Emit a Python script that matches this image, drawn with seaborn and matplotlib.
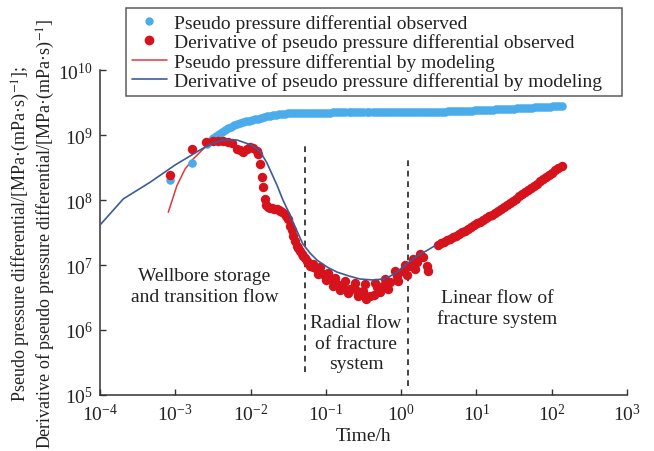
import matplotlib
matplotlib.use("Agg")
import matplotlib.pyplot as plt
import seaborn as sns
from matplotlib.lines import Line2D
from matplotlib.ticker import NullLocator

sns.set_style("ticks")
plt.rcParams['font.family'] = ['Liberation Serif', 'DejaVu Serif']
plt.rcParams['mathtext.fontset'] = 'stix'

# ---------------- data ----------------
# Pseudo pressure differential observed (blue dots)
pp_obs_t = [8.5e-4, 1.68e-3,
            2.63e-3, 2.88e-3, 3.16e-3, 3.47e-3, 3.80e-3, 4.17e-3, 4.57e-3, 5.01e-3,
            5.50e-3, 6.03e-3, 6.61e-3, 7.24e-3, 7.94e-3, 8.71e-3, 9.55e-3,
            1.05e-2, 1.15e-2, 1.26e-2, 1.38e-2, 1.51e-2, 1.66e-2, 1.82e-2, 2.00e-2,
            2.19e-2, 2.40e-2, 2.63e-2, 2.88e-2, 3.16e-2, 3.47e-2, 3.80e-2,
            4.17e-2, 4.57e-2, 5.01e-2, 5.50e-2, 6.03e-2, 6.61e-2, 7.24e-2, 7.94e-2,
            8.71e-2, 9.55e-2, 0.105, 0.115, 0.126, 0.138, 0.151, 0.166, 0.182,
            0.200, 0.219, 0.240, 0.263, 0.288, 0.316, 0.347, 0.380, 0.417, 0.457,
            0.501, 0.550, 0.603, 0.661, 0.724, 0.794, 0.871, 0.955,
            1.05, 1.15, 1.26, 1.38, 1.51, 1.66, 1.82, 2.00, 2.19, 2.40, 2.63, 2.88,
            3.16, 3.47, 3.80, 4.17, 4.57, 5.01, 5.50, 6.03, 6.61, 7.24, 7.94, 8.71,
            9.55, 10.5, 11.5, 12.6, 13.8, 15.1, 16.6, 18.2, 20.0, 21.9, 24.0, 26.3,
            28.8, 31.6, 34.7, 38.0, 41.7, 45.7, 50.1, 55.0, 60.3, 66.1, 72.4, 79.4,
            87.1, 95.5, 105.0, 115.0, 126.0, 138.0]
pp_obs_v = [2.0e8, 3.7e8,
            7.3e8, 8.1e8, 8.9e8, 9.7e8, 1.05e9, 1.13e9, 1.20e9, 1.28e9,
            1.35e9, 1.42e9, 1.48e9, 1.53e9, 1.58e9, 1.62e9, 1.66e9,
            1.70e9, 1.74e9, 1.78e9, 1.82e9, 1.87e9, 1.93e9, 1.98e9, 2.03e9,
            2.06e9, 2.09e9, 2.12e9, 2.14e9, 2.16e9, 2.18e9, 2.19e9,
            2.19e9, 2.19e9, 2.20e9, 2.20e9, 2.20e9, 2.20e9, 2.21e9, 2.21e9,
            2.21e9, 2.21e9, 2.21e9, 2.21e9, 2.22e9, 2.22e9, 2.22e9, 2.22e9, 2.22e9,
            2.22e9, 2.22e9, 2.22e9, 2.22e9, 2.22e9, 2.23e9, 2.23e9, 2.23e9, 2.23e9, 2.23e9,
            2.23e9, 2.23e9, 2.23e9, 2.23e9, 2.23e9, 2.24e9, 2.24e9, 2.24e9,
            2.24e9, 2.24e9, 2.24e9, 2.24e9, 2.24e9, 2.25e9, 2.25e9, 2.25e9, 2.26e9, 2.26e9, 2.27e9, 2.27e9,
            2.28e9, 2.29e9, 2.29e9, 2.30e9, 2.31e9, 2.32e9, 2.33e9, 2.34e9, 2.35e9, 2.36e9, 2.37e9, 2.38e9,
            2.39e9, 2.40e9, 2.41e9, 2.42e9, 2.43e9, 2.44e9, 2.46e9, 2.47e9, 2.48e9, 2.49e9, 2.51e9, 2.52e9,
            2.54e9, 2.55e9, 2.57e9, 2.58e9, 2.60e9, 2.61e9, 2.63e9, 2.64e9, 2.66e9, 2.67e9, 2.69e9, 2.70e9,
            2.72e9, 2.73e9, 2.75e9, 2.77e9, 2.79e9, 2.81e9]

# Derivative of pseudo pressure differential observed (red dots)
dp_obs_t = [8.51e-4, 1.68e-3, 2.52e-3, 3.17e-3, 3.69e-3, 4.30e-3, 5.01e-3, 5.66e-3,
            6.53e-3, 7.23e-3, 7.92e-3, 8.95e-3, 9.82e-3, 1.08e-2, 1.21e-2, 1.27e-2,
            1.33e-2, 1.40e-2, 1.46e-2, 1.55e-2, 1.70e-2, 1.92e-2, 2.22e-2, 2.46e-2,
            2.86e-2, 3.14e-2, 3.34e-2, 3.69e-2, 4.09e-2, 4.53e-2, 5.01e-2, 5.56e-2,
            6.15e-2, 7.55e-2, 9.23e-2, 0.113, 0.139, 0.170, 0.209, 0.256, 0.314,
            0.385, 0.473, 0.578, 0.710, 0.871, 1.07, 1.31, 1.61, 1.97, 2.18, 2.29,
            # extra readings in the transition drop
            1.60e-2, 1.80e-2, 2.05e-2, 2.35e-2, 2.65e-2, 3.00e-2, 3.50e-2, 3.90e-2,
            4.30e-2, 4.80e-2, 5.30e-2, 5.85e-2, 6.80e-2,
            # upper / lower edge of the scattered radial-flow band
            6.75e-2, 8.36e-2, 0.107, 0.132, 0.179, 0.243, 0.330, 0.448, 0.609, 0.828,
            1.12, 1.43, 1.78,
            7.85e-2, 0.100, 0.124, 0.154, 0.197, 0.267, 0.340, 0.435, 0.523, 0.668,
            0.908, 1.19, 1.52,
            # linear flow section
            3.09, 3.39, 3.72, 4.07, 4.47, 4.90, 5.37, 5.89, 6.46, 7.08, 7.76, 8.51,
            9.33, 10.2, 11.2, 12.3, 13.5, 14.8, 16.2, 17.8, 19.5, 21.4, 23.4, 25.7,
            28.2, 30.9, 33.9, 37.2, 40.7, 44.7, 49.0, 53.7, 58.9, 64.6, 70.8, 77.6,
            85.1, 93.3, 102.0, 112.0, 123.0, 135.0]
dp_obs_v = [2.43e8, 6.09e8, 7.89e8, 8.17e8, 8.17e8, 8.17e8, 7.94e8, 7.54e8,
            6.09e8, 5.88e8, 5.47e8, 6.09e8, 6.53e8, 6.31e8, 5.73e8, 5.10e8,
            3.58e8, 2.26e8, 1.58e8, 1.04e8, 7.80e7, 7.53e7, 7.27e7, 6.84e7,
            6.09e7, 5.10e7, 4.03e7, 2.82e7, 1.98e7, 1.66e7, 1.39e7, 1.16e7,
            9.75e6, 8.67e6, 7.27e6, 6.09e6, 5.10e6, 4.54e6, 4.28e6, 4.03e6, 4.03e6,
            3.37e6, 4.54e6, 4.81e6, 5.42e6, 6.84e6, 8.17e6, 9.75e6, 1.10e7, 1.31e7, 9.75e6, 8.17e6,
            8.5e7, 7.6e7, 7.4e7, 7.0e7, 6.5e7, 5.6e7, 3.4e7, 2.3e7,
            1.8e7, 1.5e7, 1.27e7, 1.06e7, 9.2e6,
            1.04e7, 9.31e6, 7.53e6, 6.31e6, 5.68e6, 5.28e6, 5.10e6, 5.28e6, 6.09e6, 8.09e6,
            1.00e7, 1.24e7, 1.48e7,
            7.27e6, 5.88e6, 4.75e6, 4.12e6, 3.71e6, 3.33e6, 3.00e6, 3.45e6, 3.85e6, 4.28e6,
            5.68e6, 7.02e6, 8.67e6,
            2.04e7, 2.15e7, 2.28e7, 2.40e7, 2.54e7, 2.69e7, 2.84e7, 3.00e7, 3.18e7, 3.37e7, 3.59e7, 3.85e7,
            4.09e7, 4.36e7, 4.65e7, 4.95e7, 5.27e7, 5.61e7, 5.96e7, 6.34e7, 6.78e7, 7.30e7, 7.86e7, 8.43e7,
            9.08e7, 9.79e7, 1.05e8, 1.14e8, 1.23e8, 1.32e8, 1.43e8, 1.54e8, 1.66e8, 1.79e8, 1.94e8, 2.10e8,
            2.26e8, 2.44e8, 2.64e8, 2.85e8, 3.10e8, 3.35e8]

# Pseudo pressure differential by modeling (red line)
pp_mod_t = [8.07e-4, 1.05e-3, 1.35e-3, 1.73e-3, 2.35e-3, 2.89e-3, 3.8e-3, 5.5e-3,
            1.0e-2, 2.0e-2, 5.0e-2, 1.0, 10.0, 112.0]
pp_mod_v = [6.47e7, 1.66e8, 3.00e8, 4.28e8, 6.09e8, 7.54e8, 1.0e9, 1.33e9,
            1.68e9, 2.0e9, 2.18e9, 2.24e9, 2.4e9, 2.75e9]

# Derivative of pseudo pressure differential by modeling (blue line)
dp_mod_t = [1.00e-4, 2.04e-4, 4.61e-4, 9.91e-4, 1.57e-3, 2.13e-3, 2.89e-3, 4.30e-3,
            6.59e-3, 9.82e-3, 1.33e-2, 1.65e-2, 2.24e-2, 2.69e-2, 3.34e-2, 4.13e-2,
            4.96e-2, 6.15e-2, 7.62e-2, 0.104, 0.140, 0.209, 0.284, 0.422, 0.573,
            0.710, 0.879, 1.19, 1.62, 2.20, 2.81]
dp_mod_v = [4.12e7, 1.04e8, 1.87e8, 3.45e8, 4.75e8, 5.88e8, 7.14e8, 8.38e8,
            8.38e8, 7.14e8, 5.67e8, 3.71e8, 1.70e8, 1.00e8, 5.88e7, 3.33e7,
            2.10e7, 1.53e7, 1.19e7, 9.31e6, 7.80e6, 6.70e6, 6.09e6, 5.88e6, 6.09e6,
            6.70e6, 7.73e6, 1.04e7, 1.37e7, 1.67e7, 1.98e7]

# Flow-regime boundaries (dashed lines): time, lower and upper extent
bound_t = [0.053, 1.24]
bound_lo = [2.26e5, 1.39e5]
bound_hi = [7.73e8, 4.28e8]

regime_labels = ["Wellbore storage\nand transition flow",
                 "Radial flow\nof fracture\nsystem",
                 "Linear flow of\nfracture system"]
regime_t = [2.45e-3, 0.251, 18.7]
regime_v = [4.75e6, 6.3e5, 2.18e6]

legend_labels = ["Pseudo pressure differential observed",
                 "Derivative of pseudo pressure differential observed",
                 "Pseudo pressure differential by modeling",
                 "Derivative of pseudo pressure differential by modeling"]

x_ticks = [1e-4, 1e-3, 1e-2, 1e-1, 1e0, 1e1, 1e2, 1e3]
y_ticks = [1e5, 1e6, 1e7, 1e8, 1e9, 1e10]

# ---------------- styling ----------------
c_blue_dot = "#4aacea"
c_red_dot = "#d6121c"
c_red_line = "#e0383a"
c_blue_line = "#3e5b98"
c_text = "#222222"
FS = 14

fig = plt.figure(figsize=(6.54, 4.52), dpi=100)
ax = fig.add_axes([0.1529, 0.1239, 0.8058, 0.7190])
ax.set_xscale("log")
ax.set_yscale("log")

sns.lineplot(x=pp_mod_t, y=pp_mod_v, color=c_red_line, lw=1.1, ax=ax,
             estimator=None, sort=False, zorder=2)
sns.scatterplot(x=pp_obs_t, y=pp_obs_v, color=c_blue_dot, s=38, linewidth=0,
                ax=ax, zorder=3)
sns.scatterplot(x=dp_obs_t, y=dp_obs_v, color=c_red_dot, s=46, linewidth=0,
                ax=ax, zorder=4)
sns.lineplot(x=dp_mod_t, y=dp_mod_v, color=c_blue_line, lw=1.2, ax=ax,
             estimator=None, sort=False, zorder=5)

ax.vlines(bound_t, bound_lo, bound_hi, colors="#333333", linestyles=(0, (3.2, 2.6)),
          lw=1.3, zorder=1)

for lab, tx, vy in zip(regime_labels, regime_t, regime_v):
    ax.text(tx, vy, lab, ha="center", va="center", fontsize=FS, color=c_text,
            linespacing=1.25)

ax.set_xlim(1e-4, 1e3)
ax.set_ylim(1e5, 1e10)
ax.set_xticks(x_ticks)
ax.set_yticks(y_ticks)
ax.xaxis.set_minor_locator(NullLocator())
ax.yaxis.set_minor_locator(NullLocator())
ax.tick_params(direction="in", length=4, width=1, colors="#333333",
               labelcolor=c_text, labelsize=FS, pad=5)
ax.tick_params(axis="x", pad=6)
for s in ["left", "bottom"]:
    ax.spines[s].set_color("#333333")
    ax.spines[s].set_linewidth(1.1)
sns.despine(ax=ax)

ax.set_xlabel("Time/h", fontsize=FS, color=c_text, labelpad=2)
ax.set_ylabel("Pseudo pressure differential/[MPa\u00b7(mPa\u00b7s)$^{-1}$];\n"
              "Derivative of pseudo pressure differential/[MPa\u00b7(mPa\u00b7s)$^{-1}$]",
              fontsize=13, color=c_text, linespacing=1.15)
ax.yaxis.set_label_coords(-0.082, 0.5)

handles = [Line2D([], [], ls="none", marker="o", ms=6, mec="none", color=c_blue_dot),
           Line2D([], [], ls="none", marker="o", ms=7, mec="none", color=c_red_dot),
           Line2D([], [], color=c_red_line, lw=1.1),
           Line2D([], [], color=c_blue_line, lw=1.2)]
leg = fig.legend(handles, legend_labels, loc="upper left",
                 bbox_to_anchor=(126 / 654, 1 - 101 / 452, 496 / 654, 92 / 452),
                 bbox_transform=fig.transFigure, mode="expand",
                 frameon=True, fancybox=False, borderaxespad=0, fontsize=FS,
                 handlelength=1.8, handletextpad=0.35, labelspacing=0.08,
                 borderpad=0.3)
leg.get_frame().set_edgecolor("#333333")
leg.get_frame().set_linewidth(1.1)
for t in leg.get_texts():
    t.set_color(c_text)

fig.savefig("out.png", dpi=100)
